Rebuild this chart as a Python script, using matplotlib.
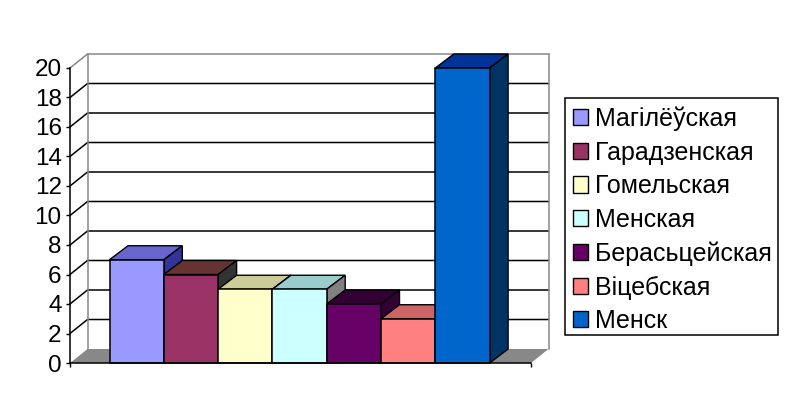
import matplotlib
matplotlib.use("Agg")
import matplotlib.pyplot as plt
from matplotlib.patches import Patch, Rectangle

plt.rcParams['font.family'] = ['Liberation Sans', 'DejaVu Sans']

regions = ["Магілёўская", "Гарадзенская", "Гомельская", "Менская", "Берасьцейская", "Віцебская", "Менск"]
values = [7, 6, 5, 5, 4, 3, 20]
y_ticks = list(range(0, 21, 2))
front_colors = ["#9999FF", "#993366", "#FFFFCC", "#CCFFFF", "#660066", "#FF8080", "#0066CC"]
top_colors = ["#6666CC", "#663333", "#CCCC99", "#99CCCC", "#330033", "#CC6666", "#003399"]
side_colors = ["#333399", "#333333", "#808066", "#808080", "#330033", "#804040", "#003366"]

W, H = 800, 412
fig = plt.figure(figsize=(W / 100, H / 100), dpi=100, facecolor="white")
L, R, T, B = 70, 531, 68, 363
ax = fig.add_axes([L / W, (H - B) / H, (R - L) / W, (B - T) / H])
ax.patch.set_visible(False)

bar_px = 54.3
xmin = -39.5 / bar_px
xmax = xmin + (R - L) / bar_px
ax.set_xlim(xmin, xmax)
ax.set_ylim(0, 20)
px_x = (xmax - xmin) / (R - L)
px_y = 20 / (B - T)
dx = 17.5 * px_x      # wall depth
dy = 14 * px_y
bdx = 18.5 * px_x     # bar depth
bdy = 14 * px_y

grey = "#888888"
# floor
ax.fill([xmin, xmax, xmax + dx, xmin + dx], [0, 0, dy, dy], color=grey, lw=0, zorder=1, clip_on=False)
# gridlines on walls
for t in y_ticks:
    if t == 0:
        continue
    c = grey if t == 20 else "black"
    ax.plot([xmin, xmin + dx, xmax + dx], [t, t + dy, t + dy], color=c, lw=1.1, zorder=1.5,
            clip_on=False, solid_joinstyle="miter")
# back wall edges
ax.plot([xmin + dx, xmin + dx], [dy, 20 + dy], color=grey, lw=1.1, zorder=1.6, clip_on=False)
ax.plot([xmax + dx, xmax + dx], [dy, 20 + dy], color=grey, lw=1.1, zorder=1.6, clip_on=False)

# bars
for i, (v, fc, tc, sc) in enumerate(zip(values, front_colors, top_colors, side_colors)):
    z = 2 + i * 0.1
    ax.fill([i, i + 1, i + 1 + bdx, i + bdx], [v, v, v + bdy, v + bdy], facecolor=tc,
            edgecolor="black", lw=1.0, zorder=z, clip_on=False)
    ax.fill([i + 1, i + 1 + bdx, i + 1 + bdx, i + 1], [0, bdy, v + bdy, v], facecolor=sc,
            edgecolor="black", lw=1.0, zorder=z, clip_on=False)
    ax.bar(i + 0.5, v, width=1, color=fc, edgecolor="black", lw=1.1, zorder=z + 0.05, clip_on=False)

for s in ("top", "right"):
    ax.spines[s].set_visible(False)
for s in ("left", "bottom"):
    ax.spines[s].set_linewidth(1.1)
    ax.spines[s].set_zorder(4)
ax.set_yticks(y_ticks)
ax.set_xticks([xmin, xmax])
ax.set_xticklabels([])
ax.tick_params(axis="y", length=3, width=1.0, labelsize=17.5, pad=3)
ax.tick_params(axis="x", length=3, width=1.0)

# legend box
ax.add_patch(Rectangle((564.5 / W, 1 - 334.5 / H), 213.5 / W, 237 / H, transform=fig.transFigure,
                       facecolor="white", edgecolor="black", lw=1.1, zorder=9, clip_on=False))
handles = [Patch(facecolor=c, edgecolor="black", lw=1.0) for c in front_colors]
leg = ax.legend(handles, regions, loc="upper left",
                bbox_to_anchor=(564.5 / W, 1 - 98.5 / H), bbox_transform=fig.transFigure,
                fontsize=18, frameon=False,
                borderaxespad=0, borderpad=0.32, labelspacing=0.384, handlelength=0.62,
                handleheight=0.62, handletextpad=0.28)
leg.set_zorder(10)

fig.savefig("out.png", dpi=100, facecolor="white")
